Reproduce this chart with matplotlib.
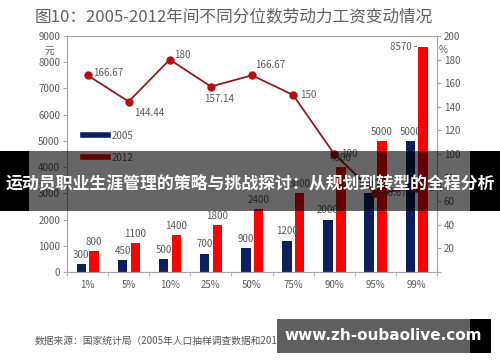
import matplotlib
matplotlib.use("Agg")
import matplotlib.pyplot as plt
from matplotlib.lines import Line2D
from matplotlib.patches import Rectangle
import numpy as np

plt.rcParams["font.family"] = ["Noto Sans CJK SC", "DejaVu Sans"]

categories = ["1%", "5%", "10%", "25%", "50%", "75%", "90%", "95%", "99%"]
wage_2005 = [300, 450, 500, 700, 900, 1200, 2000, 3000, 5000]
wage_2012 = [800, 1100, 1400, 1800, 2400, 3000, 4000, 5000, 8570]
growth_pct = [166.67, 144.44, 180, 157.14, 166.67, 150, 100, 66.67, 71.4]
growth_labels = ["166.67", "144.44", "180", "157.14", "166.67", "150", "100", "66.67", "71.4"]

NAVY = "#0c1f5e"
RED = "#ff0000"
LINE = "#8e1b24"
MARK = "#b50d12"
GREY = "#5a5a5a"
SPINE = "#a6a6a6"

fig = plt.figure(figsize=(5, 3.62), dpi=100)
ax = fig.add_axes([0.134, 0.2486, 0.74, 0.652])
ax2 = ax.twinx()

x = np.arange(len(categories))
w = 0.23
b1 = ax.bar(x - 0.15, wage_2005, w, color=NAVY, zorder=2)
b2 = ax.bar(x + 0.16, wage_2012, w, color=RED, zorder=2)

for rect, v in zip(b1, wage_2005):
    ax.annotate(str(v), (rect.get_x() + rect.get_width() / 2, v), xytext=(0, 3),
                textcoords="offset points", ha="center", va="bottom", fontsize=7, color=GREY)
for i, (rect, v) in enumerate(zip(b2, wage_2012)):
    if i == len(wage_2012) - 1:
        ax.annotate(f"{v} -", (rect.get_x(), v), xytext=(-1, 0),
                    textcoords="offset points", ha="right", va="center", fontsize=7, color=GREY)
    else:
        ax.annotate(str(v), (rect.get_x() + rect.get_width() / 2, v), xytext=(0, 3),
                    textcoords="offset points", ha="center", va="bottom", fontsize=7, color=GREY)

ax.set_xlim(-0.5, len(categories) - 0.5)
ax.set_ylim(0, 9000)
ax.set_yticks(range(0, 9001, 1000))
ax.set_xticks(x)
ax.set_xticklabels(categories)
ax.set_xticks(np.arange(-0.5, len(categories), 1), minor=True)
ax.tick_params(axis="x", which="major", length=0, labelsize=7, labelcolor=GREY, pad=6)
ax.tick_params(axis="x", which="minor", length=3, color=SPINE)
ax.tick_params(axis="y", length=3, color=SPINE, labelsize=7, labelcolor=GREY, pad=2)

# growth line on the right axis
ax2.plot(x, growth_pct, color=LINE, lw=1.3, marker="o", ms=5,
         mfc=MARK, mec=MARK, zorder=3)
offsets = [(4, 2, "left", "center"), (4, -5, "left", "top"), (3, 3, "left", "center"),
           (6, -5, "center", "top"), (2, 4, "left", "bottom"), (5, 0, "left", "center"),
           (5, 0, "left", "center"), (5, 0, "left", "center"), (5, 0, "left", "center")]
for xi, v, lab, (dx, dy, ha, va) in zip(x, growth_pct, growth_labels, offsets):
    ax2.annotate(lab, (xi, v), xytext=(dx, dy), textcoords="offset points",
                 ha=ha, va=va, fontsize=7, color=GREY)
ax2.set_ylim(0, 200)
ax2.set_yticks(range(0, 201, 20))
ax2.set_yticklabels([""] + [str(t) for t in range(20, 201, 20)])
ax2.tick_params(axis="y", length=3, color=SPINE, labelsize=7, labelcolor=GREY, pad=2)

for a in (ax, ax2):
    for s in a.spines.values():
        s.set_color(SPINE)
        s.set_linewidth(0.8)

fig.text(0.09, 0.86, "元", fontsize=7, color=GREY, ha="left", va="center")
fig.text(0.878, 0.862, "%", fontsize=7, color=GREY, ha="left", va="center")

handles = [Line2D([0], [0], color=NAVY, lw=4), Line2D([0], [0], color=RED, lw=4)]
ax.legend(handles, ["2005", "2012"], loc="upper left", bbox_to_anchor=(0.02, 0.635),
          frameon=False, fontsize=7, labelcolor=GREY, handlelength=2.6,
          handletextpad=0.3, labelspacing=1.2)

fig.text(0.07, 0.955, "图10：2005-2012年间不同分位数劳动力工资变动情况",
         fontsize=12, color="#606060", ha="left", va="center")
fig.text(0.07, 0.058, "数据来源：国家统计局（2005年人口抽样调查数据和2012年全国劳动力调查数据）",
         fontsize=7, color="#555555", ha="left", va="center")

# overlay banner
fig.patches.append(Rectangle((0, 1 - 211 / 362), 1, 60 / 362, transform=fig.transFigure,
                             facecolor="black", alpha=0.6, zorder=10))
fig.patches.append(Rectangle((0, 1 - 211 / 362), 29 / 500, 60 / 362, transform=fig.transFigure,
                             facecolor="black", zorder=11))
fig.patches.append(Rectangle((470 / 500, 1 - 211 / 362), 30 / 500, 60 / 362,
                             transform=fig.transFigure, facecolor="black", zorder=11))
fig.text(0.5, 1 - 183 / 362, "运动员职业生涯管理的策略与挑战探讨：从规划到转型的全程分析",
         fontsize=12.2, fontweight="bold", color="white", ha="center", va="center", zorder=12)

# watermark box
fig.patches.append(Rectangle((277 / 500, 1 - 353 / 362), 193 / 500, 34 / 362,
                             transform=fig.transFigure, facecolor="#5f5f5f", zorder=10))
fig.patches.append(Rectangle((470 / 500, 1 - 353 / 362), 21 / 500, 34 / 362,
                             transform=fig.transFigure, facecolor="black", zorder=10))
fig.text(383 / 500, 1 - 336 / 362, "www.zh-oubaolive.com", fontsize=11, fontweight="bold",
         family="DejaVu Sans", color="white", ha="center", va="center", zorder=12)

fig.savefig("out.png", dpi=100)
